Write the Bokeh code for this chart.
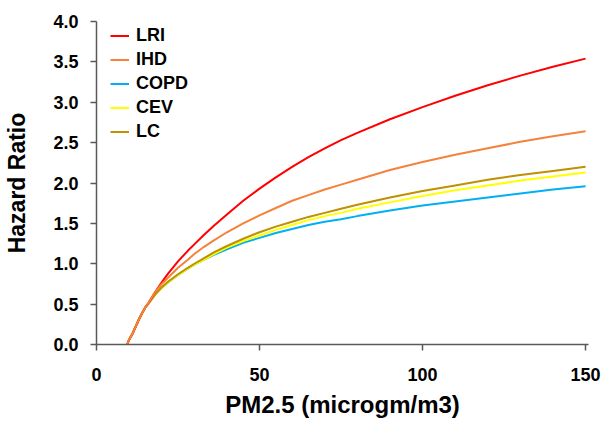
from bokeh.plotting import figure
from bokeh.models import Range1d, FixedTicker, PrintfTickFormatter, Legend, LegendItem
from bokeh.embed import file_html
from bokeh.resources import INLINE

pm25 = [9.4, 10, 11, 12, 13, 14, 15, 16, 18, 20, 22, 25, 28, 30, 33, 36, 40, 45,
        50, 55, 60, 65, 70, 75, 80, 90, 100, 110, 120, 130, 140, 150]

lri = [0.0, 0.06, 0.13, 0.22, 0.31, 0.39, 0.46, 0.52, 0.65, 0.77, 0.88, 1.03, 1.16, 1.24,
       1.36, 1.47, 1.61, 1.78, 1.93, 2.07, 2.20, 2.32, 2.43, 2.53, 2.62, 2.79, 2.94, 3.08,
       3.21, 3.33, 3.44, 3.54]
ihd = [0.0, 0.06, 0.13, 0.22, 0.31, 0.39, 0.46, 0.52, 0.65, 0.75, 0.83, 0.95, 1.05, 1.12,
       1.21, 1.29, 1.39, 1.50, 1.60, 1.69, 1.78, 1.85, 1.92, 1.98, 2.04, 2.16, 2.26, 2.35,
       2.43, 2.51, 2.58, 2.64]
copd = [0.0, 0.06, 0.13, 0.22, 0.31, 0.39, 0.46, 0.51, 0.62, 0.70, 0.77, 0.86, 0.94, 0.99,
        1.05, 1.11, 1.18, 1.26, 1.32, 1.38, 1.43, 1.48, 1.52, 1.55, 1.59, 1.66, 1.72, 1.77,
        1.82, 1.87, 1.92, 1.96]
cev = [0.0, 0.06, 0.13, 0.22, 0.31, 0.39, 0.46, 0.51, 0.62, 0.70, 0.77, 0.86, 0.94, 0.99,
       1.05, 1.12, 1.20, 1.28, 1.35, 1.42, 1.48, 1.54, 1.59, 1.63, 1.68, 1.76, 1.84, 1.91,
       1.97, 2.03, 2.08, 2.13]
lc = [0.0, 0.06, 0.13, 0.22, 0.31, 0.39, 0.46, 0.51, 0.62, 0.71, 0.78, 0.87, 0.95, 1.00,
      1.07, 1.14, 1.22, 1.31, 1.39, 1.46, 1.52, 1.58, 1.63, 1.68, 1.73, 1.82, 1.90, 1.97,
      2.04, 2.10, 2.15, 2.20]

x_ticks = [0, 50, 100, 150]
y_ticks = [0.0, 0.5, 1.0, 1.5, 2.0, 2.5, 3.0, 3.5, 4.0]

FONT = "Liberation Sans"
AXIS_COLOR = "#595959"

p = figure(width=604, height=421, output_backend="svg", toolbar_location=None,
           x_range=Range1d(0, 150.9), y_range=Range1d(0, 4.0),
           min_border_left=96, min_border_right=16, min_border_top=21, min_border_bottom=77)
p.outline_line_color = None
p.grid.visible = False
p.background_fill_color = "white"
p.border_fill_color = "white"

r_copd = p.line(pm25, copd, line_color="#00B0F0", line_width=2)
r_cev = p.line(pm25, cev, line_color="#FFFF00", line_width=2)
r_lc = p.line(pm25, lc, line_color="#BF9000", line_width=2)
r_lri = p.line(pm25, lri, line_color="#FF0000", line_width=2)
r_ihd = p.line(pm25, ihd, line_color="#F4823C", line_width=2)

for ax in (p.xaxis[0], p.yaxis[0]):
    ax.axis_line_color = AXIS_COLOR
    ax.axis_line_width = 1.5
    ax.major_tick_line_color = AXIS_COLOR
    ax.major_tick_line_width = 1.5
    ax.major_tick_out = 6
    ax.major_tick_in = 0
    ax.minor_tick_line_color = None
    ax.major_label_text_font = FONT
    ax.major_label_text_font_style = "bold"
    ax.major_label_text_color = "black"
    ax.axis_label_text_font = FONT
    ax.axis_label_text_font_style = "bold"
    ax.axis_label_text_color = "black"

p.xaxis.ticker = FixedTicker(ticks=x_ticks)
p.yaxis.ticker = FixedTicker(ticks=y_ticks)
p.yaxis.formatter = PrintfTickFormatter(format="%.1f")

p.xaxis.axis_label = "PM2.5 (microgm/m3)"
p.yaxis.axis_label = "Hazard Ratio"
p.xaxis.major_label_text_font_size = "18px"
p.yaxis.major_label_text_font_size = "18px"
p.xaxis.axis_label_text_font_size = "24px"
p.yaxis.axis_label_text_font_size = "23px"
p.xaxis.major_label_standoff = 17
p.xaxis.axis_label_standoff = 7
p.yaxis.major_label_standoff = 12
p.yaxis.axis_label_standoff = 20

legend = Legend(items=[
    LegendItem(label="LRI", renderers=[r_lri]),
    LegendItem(label="IHD", renderers=[r_ihd]),
    LegendItem(label="COPD", renderers=[r_copd]),
    LegendItem(label="CEV", renderers=[r_cev]),
    LegendItem(label="LC", renderers=[r_lc]),
], location=(14, 202))
legend.padding = 0
legend.margin = 0
legend.spacing = 3
legend.glyph_width = 19
legend.glyph_height = 21
legend.label_height = 21
legend.label_standoff = 7
legend.label_text_font = FONT
legend.label_text_font_style = "bold"
legend.label_text_font_size = "18px"
legend.label_text_color = "black"
legend.border_line_color = None
legend.background_fill_alpha = 0
p.add_layout(legend)

open("out.html", "w").write(file_html(p, INLINE))
